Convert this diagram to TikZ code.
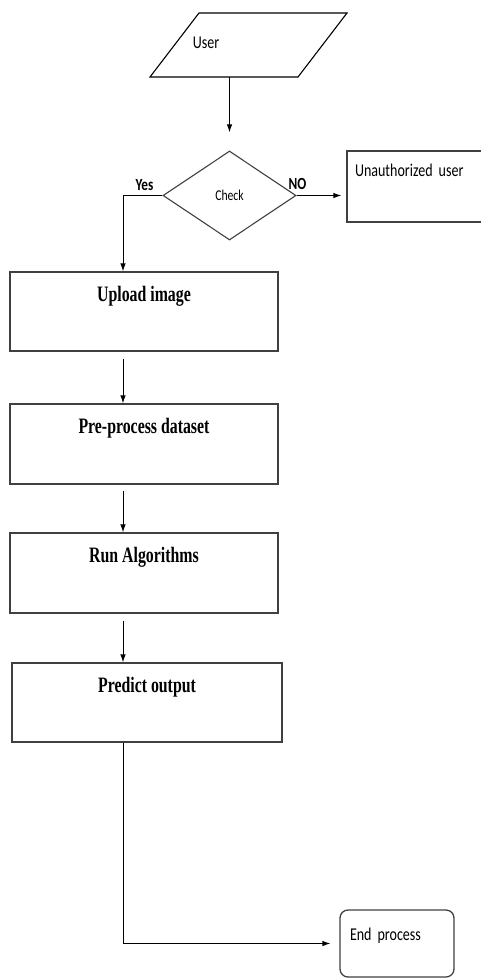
\documentclass[tikz,border=0pt]{standalone}
\usepackage{fontspec}
\usepackage{tikz}
\usetikzlibrary{arrows.meta,shapes.geometric}

\newfontfamily\boxfont[FakeStretch=0.72]{Liberation Serif}
\newfontfamily\labfont[FakeStretch=0.78]{Carlito}

\tikzset{
  procbox/.style={draw=black!75, line width=1.3pt, inner sep=0pt, minimum width=268pt,
    text height=29pt, text depth=50pt, font=\boxfont\bfseries\fontsize{22}{22}\selectfont},
  sidebox/.style={draw=black!75, line width=1.3pt, inner ysep=0pt, inner xsep=8pt, align=left,
    font=\labfont\fontsize{18}{18}\selectfont},
  flow/.style={-{Latex[length=8pt,width=5.5pt]}, line width=0.9pt},
  lab/.style={inner sep=0pt, font=\labfont\bfseries\fontsize{17}{17}\selectfont},
}

\begin{document}
\begin{tikzpicture}[x=1pt, y=-1pt]

\useasboundingbox (0,0) rectangle (481,979);

% user input
\coordinate (p0) at (150,77);
\coordinate (p1) at (298,77);
\coordinate (p2) at (347,13);
\coordinate (p3) at (199,13);
\draw[line width=1.1pt] (p0) -- (p1) -- (p2) -- (p3) -- cycle;
\node[inner sep=0pt, font=\labfont\fontsize{18}{18}\selectfont] (user) at (206,43) {User};
\coordinate (userbot) at (229.5,77);

\node[diamond, draw=black!75, line width=1.1pt, inner sep=0pt, minimum width=133pt, minimum height=89pt,
      font=\labfont\fontsize{15}{15}\selectfont] (check) at (229.5,195.5) {Check};

\node[lab] (yes) at (144.5,185) {Yes};
\node[lab] (no) at (297.5,184) {NO};

\node[sidebox, text width=119pt, text height=25pt, text depth=46pt] (unauth) at (414.5,186.5) {Unauthorized user};

% main column
\coordinate (spine) at (123,0);
\node[procbox] (upload) at (144,311.5) {Upload image};
\node[procbox, text depth=51pt] (prep) at (144,444) {Pre-process dataset};
\node[procbox, text depth=51pt] (run) at (144,573) {Run Algorithms};
\node[procbox, minimum width=270pt] (predict) at (147,702.5) {Predict output};

\node[sidebox, rounded corners=8pt, inner xsep=10pt, text width=94pt, text height=30pt, text depth=37pt]
     (endbox) at (397,943.5) {End process};

\draw[flow, shorten >=18pt] (userbot) -- (check.north);
\draw[flow, shorten >=5pt] (check.east) -- (check.east -| unauth.west);
\draw[flow] (check.west) -| (spine |- upload.north);
\draw[flow, shorten <=7pt] (spine |- upload.south) -- (spine |- prep.north);
\draw[flow, shorten <=6pt] (spine |- prep.south) -- (spine |- run.north);
\draw[flow, shorten <=7pt] (spine |- run.south) -- (spine |- predict.north);
\draw[flow, shorten >=9pt] (spine |- predict.south) |- (endbox.west);

\end{tikzpicture}
\end{document}
